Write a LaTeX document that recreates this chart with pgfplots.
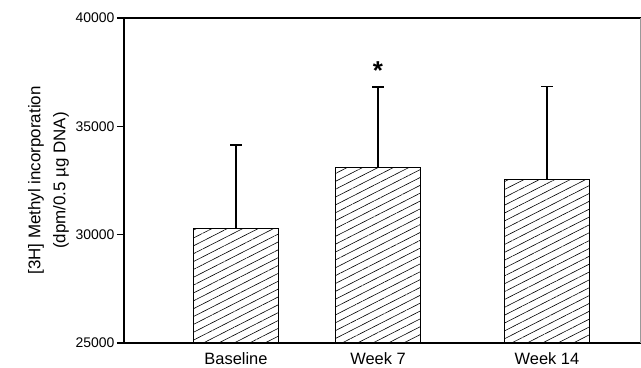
\documentclass[border=0pt]{standalone}
\usepackage{pgfplots}
\pgfplotsset{compat=1.18}
\usepackage{fontspec}
\setmainfont{Liberation Sans}
\usetikzlibrary{patterns.meta}
\begin{document}
\begin{tikzpicture}
\useasboundingbox (-124bp,-25bp) rectangle (517bp,343bp);
\begin{axis}[
  at={(0,0)}, anchor=south west,
  scale only axis, width=516bp, height=325bp,
  xmin=0, xmax=516, ymin=25000, ymax=40000,
  clip=false,
  axis line style={draw=none},
  ytick={25000,30000,35000,40000},
  scaled y ticks=false,
  xtick={112,254,423}, xticklabels={Baseline,Week 7,Week 14},
  x tick style={draw=none},
  y tick style={black, line width=1.4bp},
  tick align=outside, major tick length=7bp,
  yticklabel style={font=\fontsize{14}{14}\selectfont, /pgf/number format/assume math mode=true, /pgf/number format/1000 sep={}, xshift=1bp},
  xticklabel style={font=\fontsize{16.5}{18}\selectfont, yshift=1bp},
  ylabel={[3H] Methyl incorporation\\(dpm/0.5 µg DNA)},
  ylabel style={font=\fontsize{17}{25}\selectfont, align=center},
]
\addplot[ybar, bar width=85bp, draw=black, line width=1.2bp,
  pattern={Lines[angle=27,distance=7bp,line width=0.6bp]}, pattern color=black,
  error bars/.cd, y dir=plus, y explicit,
  error bar style={line width=1.6bp, black},
  error mark options={rotate=90, mark size=6bp, line width=1.8bp, black}]
coordinates {(112,30300) +- (0,3850) (254,33100) +- (0,3710) (423,32550) +- (0,4290)};
\node[font=\bfseries\fontsize{26}{26}\selectfont] at (axis cs:254,37550) {*};
\draw[line width=1.6bp] (rel axis cs:1,1) -- (rel axis cs:0,1) -- (rel axis cs:0,0) -- (rel axis cs:1,0);
\draw[line width=0.6bp, black!40] (rel axis cs:1,0) -- (rel axis cs:1,1);
\end{axis}
\end{tikzpicture}
\end{document}
